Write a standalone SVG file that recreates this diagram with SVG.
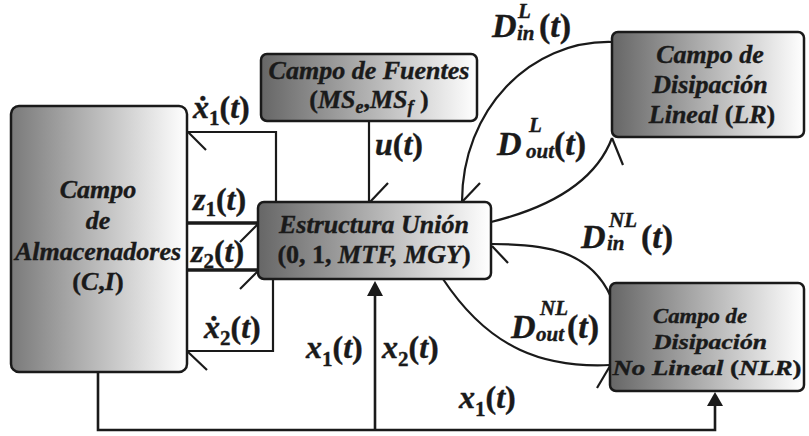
<svg xmlns="http://www.w3.org/2000/svg" width="809" height="436" viewBox="0 0 809 436">
<defs>
<linearGradient id="g" x1="0" y1="0" x2="1" y2="0">
<stop offset="0" stop-color="#666"/>
<stop offset="1" stop-color="#fff"/>
</linearGradient>
<linearGradient id="g2" x1="0" y1="0" x2="1" y2="0">
<stop offset="0" stop-color="#7a7a7a"/>
<stop offset="1" stop-color="#fff"/>
</linearGradient>
</defs>
<style>
.box{stroke:#1a1a1a;stroke-width:2.5;fill:url(#g)}
.ln{fill:none;stroke:#1a1a1a;stroke-width:2.2}
.thk{fill:none;stroke:#1a1a1a;stroke-width:3.5}
.ah{fill:#1a1a1a;stroke:none}
.t{font-family:"Liberation Serif","Times New Roman",serif;font-weight:bold;font-style:italic;fill:#1a1a1a;stroke:#1a1a1a;stroke-width:0.4}
.bt{font-size:26px;text-anchor:middle}
.nl{font-size:22px;text-anchor:middle}
.m{font-size:32px}
.d{font-size:34px}
.s{font-size:21px}
.n{font-style:normal}
</style>

<g id="connectors">
<path class="ln" d="M187,132 H276 V202"/>
<path class="ln" d="M188,132 L206,150"/>
<path class="thk" d="M187,223 H258"/>
<path class="ln" d="M258,224 L240,242"/>
<path class="thk" d="M187,270 H258"/>
<path class="ln" d="M258,271 L240,289"/>
<path class="ln" d="M273,279 V351 H187"/>
<path class="ln" d="M188,352 L207,370"/>
<path class="ln" d="M369,121 V202"/>
<path class="ln" d="M370,202 L388,183"/>
<path class="ln" d="M612,42 C530,40 462,110 462,202"/>
<path class="ln" d="M462,202 L480,183"/>
<path class="ln" d="M491,222 C560,205 598,175 612,138"/>
<path class="ln" d="M612,138 L623,165"/>
<path class="ln" d="M611,297 C590,250 545,244 492,244"/>
<path class="ln" d="M492,246 L508,263"/>
<path class="ln" d="M443,279 C490,350 545,368 610,365"/>
<path class="ln" d="M610,366 L597,388"/>
<path class="ln" style="stroke-width:2.6" d="M98,372 V430 H715 V404"/>
<path class="ln" style="stroke-width:2.6" d="M375,430 V294"/>
<polygon class="ah" points="375,281 367,296 383,296"/>
<polygon class="ah" points="715,392 707,406 723,406"/>
</g>

<g id="labels">
<text class="t m" x="193" y="118">ẋ<tspan class="n s" dy="7">1</tspan><tspan class="n" dy="-7">(</tspan>t<tspan class="n">)</tspan></text>
<text class="t m" x="193" y="210">z<tspan class="n s" dy="6">1</tspan><tspan class="n" dy="-6">(</tspan>t<tspan class="n">)</tspan></text>
<text class="t m" x="191" y="262">z<tspan class="n s" dy="6">2</tspan><tspan class="n" dy="-6">(</tspan>t<tspan class="n">)</tspan></text>
<text class="t m" x="204" y="338">ẋ<tspan class="n s" dy="7">2</tspan><tspan class="n" dy="-7">(</tspan>t<tspan class="n">)</tspan></text>
<text class="t m" x="375" y="155">u<tspan class="n">(</tspan>t<tspan class="n">)</tspan></text>
<text class="t m" x="306" y="358">x<tspan class="n s" dy="8">1</tspan><tspan class="n" dy="-8">(</tspan>t<tspan class="n">)</tspan></text>
<text class="t m" x="382" y="358">x<tspan class="n s" dy="8">2</tspan><tspan class="n" dy="-8">(</tspan>t<tspan class="n">)</tspan></text>
<text class="t m" x="459" y="408">x<tspan class="n s" dy="8">1</tspan><tspan class="n" dy="-8">(</tspan>t<tspan class="n">)</tspan></text>

<text class="t d" x="492" y="37">D</text>
<text class="t s" x="518" y="18">L</text>
<text class="t s" x="517" y="40">in</text>
<text class="t d" x="539" y="37"><tspan class="n">(</tspan>t<tspan class="n">)</tspan></text>

<text class="t d" x="497" y="155">D</text>
<text class="t s" x="529" y="132">L</text>
<text class="t s" x="526" y="158">out</text>
<text class="t d" x="554" y="155"><tspan class="n">(</tspan>t<tspan class="n">)</tspan></text>

<text class="t d" x="581" y="248">D</text>
<text class="t s" x="609" y="227">NL</text>
<text class="t s" x="607" y="250">in</text>
<text class="t d" x="641" y="248"><tspan class="n">(</tspan>t<tspan class="n">)</tspan></text>

<text class="t d" x="511" y="338">D</text>
<text class="t s" x="540" y="315">NL</text>
<text class="t s" x="536" y="341">out</text>
<text class="t d" x="567" y="338"><tspan class="n">(</tspan>t<tspan class="n">)</tspan></text>
</g>

<g id="almacenadores">
<rect x="11" y="106" width="176" height="266" rx="8" style="stroke:#1a1a1a;stroke-width:2.5;fill:url(#g2)"/>
<text class="t bt" x="98" y="198">Campo</text>
<text class="t bt" x="98" y="229">de</text>
<text class="t bt" x="98" y="260">Almacenadores</text>
<text class="t bt" x="98" y="290"><tspan class="n">(</tspan>C<tspan class="n">,</tspan>I<tspan class="n">)</tspan></text>
</g>

<g id="fuentes">
<rect class="box" x="261" y="54" width="216" height="67" rx="6"/>
<text class="t bt" x="369" y="79">Campo de Fuentes</text>
<text class="t bt" x="369" y="108"><tspan class="n">(</tspan>MS<tspan style="font-size:18px" dy="5">e</tspan><tspan class="n" dy="-5">,</tspan>MS<tspan style="font-size:18px" dy="5">f</tspan><tspan class="n" dy="-5"> )</tspan></text>
</g>

<g id="estructura">
<rect class="box" x="258" y="202" width="233" height="77" rx="6"/>
<text class="t bt" x="374" y="233">Estructura Unión</text>
<text class="t bt" x="374" y="263"><tspan class="n">(0, 1, </tspan>MTF, MGY<tspan class="n">)</tspan></text>
</g>

<g id="lineal">
<rect class="box" x="612" y="32" width="192" height="105" rx="6"/>
<text class="t bt" x="710" y="63">Campo de</text>
<text class="t bt" x="710" y="93">Disipación</text>
<text class="t bt" x="712" y="123">Lineal <tspan class="n">(</tspan>LR<tspan class="n">)</tspan></text>
</g>

<g id="nolineal">
<rect class="box" x="610" y="283" width="194" height="108" rx="6"/>
<text class="t nl" x="700" y="323" textLength="94" lengthAdjust="spacingAndGlyphs">Campo de</text>
<text class="t nl" x="710" y="349" textLength="114" lengthAdjust="spacingAndGlyphs">Disipación</text>
<text class="t nl" x="707" y="375" textLength="189" lengthAdjust="spacingAndGlyphs">No Lineal <tspan class="n">(</tspan>NLR<tspan class="n">)</tspan></text>
</g>
</svg>
